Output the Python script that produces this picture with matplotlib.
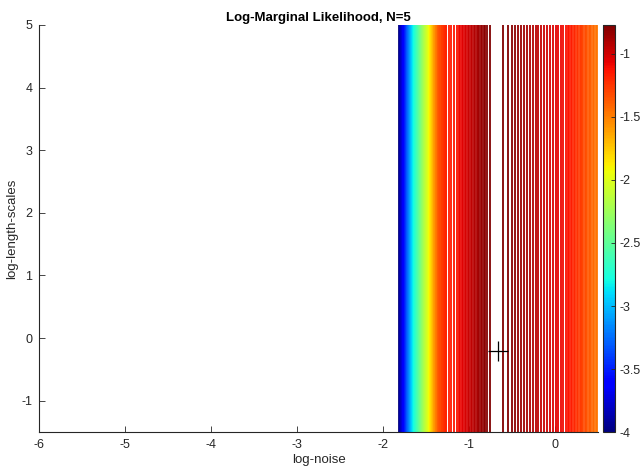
import numpy as np
import matplotlib
matplotlib.use("Agg")
import matplotlib.pyplot as plt
from matplotlib.colors import Normalize
from matplotlib.cm import ScalarMappable

plt.rcParams['font.family'] = ['Liberation Sans', 'DejaVu Sans']

# 1-D profile of the log-marginal likelihood along log-noise (constant along length-scale)
log_noise = [-1.82, -1.80, -1.755, -1.70, -1.64, -1.58, -1.52, -1.47, -1.40, -1.35,
             -1.26, -1.14, -1.06, -0.94, -0.85, -0.77, -0.69, -0.60, -0.50, -0.35,
             -0.19, 0.00, 0.14, 0.28, 0.40, 0.50]
lml = [-4.10, -3.90, -3.60, -3.20, -2.80, -2.50, -2.20, -1.98, -1.60, -1.35,
       -1.17, -1.11, -1.04, -0.93, -0.835, -0.7705, -0.766, -0.7705, -0.80, -0.87,
       -0.95, -1.04, -1.12, -1.25, -1.38, -1.48]
log_length = [-1.5, 5.0]
optimum = (-0.66, -0.2)
xticks = [-6, -5, -4, -3, -2, -1, 0]
yticks = [-1, 0, 1, 2, 3, 4, 5]
cticks = [-4, -3.5, -3, -2.5, -2, -1.5, -1]
vmin, vmax = -4.0, -0.77
n_levels = 200

xs = np.linspace(log_noise[0], log_noise[-1], 1500)
ys = np.linspace(log_length[0], log_length[1], 40)
X, Y = np.meshgrid(xs, ys)
Z = np.tile(np.interp(xs, log_noise, lml), (len(ys), 1))

fig = plt.figure(figsize=(6.41, 4.67), dpi=100)
ax = fig.add_axes([0.0613, 0.0749, 0.8716, 0.8716])
cax = fig.add_axes([603/641, 0.0749, 12/641, 0.8716])

norm = Normalize(vmin=vmin, vmax=vmax)
levels = np.linspace(vmin, vmax, n_levels)
ax.contour(X, Y, Z, levels=levels, cmap='jet', norm=norm, linewidths=1.3)
ax.plot([optimum[0]], [optimum[1]], marker='+', color='k', markersize=14, mew=0.9)

ax.set_xlim(-6, 0.5)
ax.set_ylim(-1.5, 5)
ax.set_xticks(xticks)
ax.set_yticks(yticks)
ax.set_xticklabels([str(t) for t in xticks])
ax.set_yticklabels([str(t) for t in yticks])
for s in ['top', 'right']:
    ax.spines[s].set_visible(False)
for s in ['left', 'bottom']:
    ax.spines[s].set_color('#262626')
    ax.spines[s].set_linewidth(0.8)
ax.tick_params(direction='in', length=4, width=0.6, labelsize=9, colors='#262626', pad=5)
ax.set_xlabel('log-noise', fontsize=9.5, color='#262626', labelpad=2)
ax.set_ylabel('log-length-scales', fontsize=9.5, color='#262626', labelpad=2)
ax.set_title('Log-Marginal Likelihood, N=5', fontsize=9.5, fontweight='bold', pad=3)

sm = ScalarMappable(norm=norm, cmap='jet')
cb = fig.colorbar(sm, cax=cax, ticks=cticks)
cb.set_ticklabels(['-4', '-3.5', '-3', '-2.5', '-2', '-1.5', '-1'])
cb.ax.tick_params(direction='in', length=3, width=0.6, labelsize=9, colors='#262626', pad=3)
cb.outline.set_edgecolor('#262626')
cb.outline.set_linewidth(0.8)

fig.savefig('out.png', dpi=100)
